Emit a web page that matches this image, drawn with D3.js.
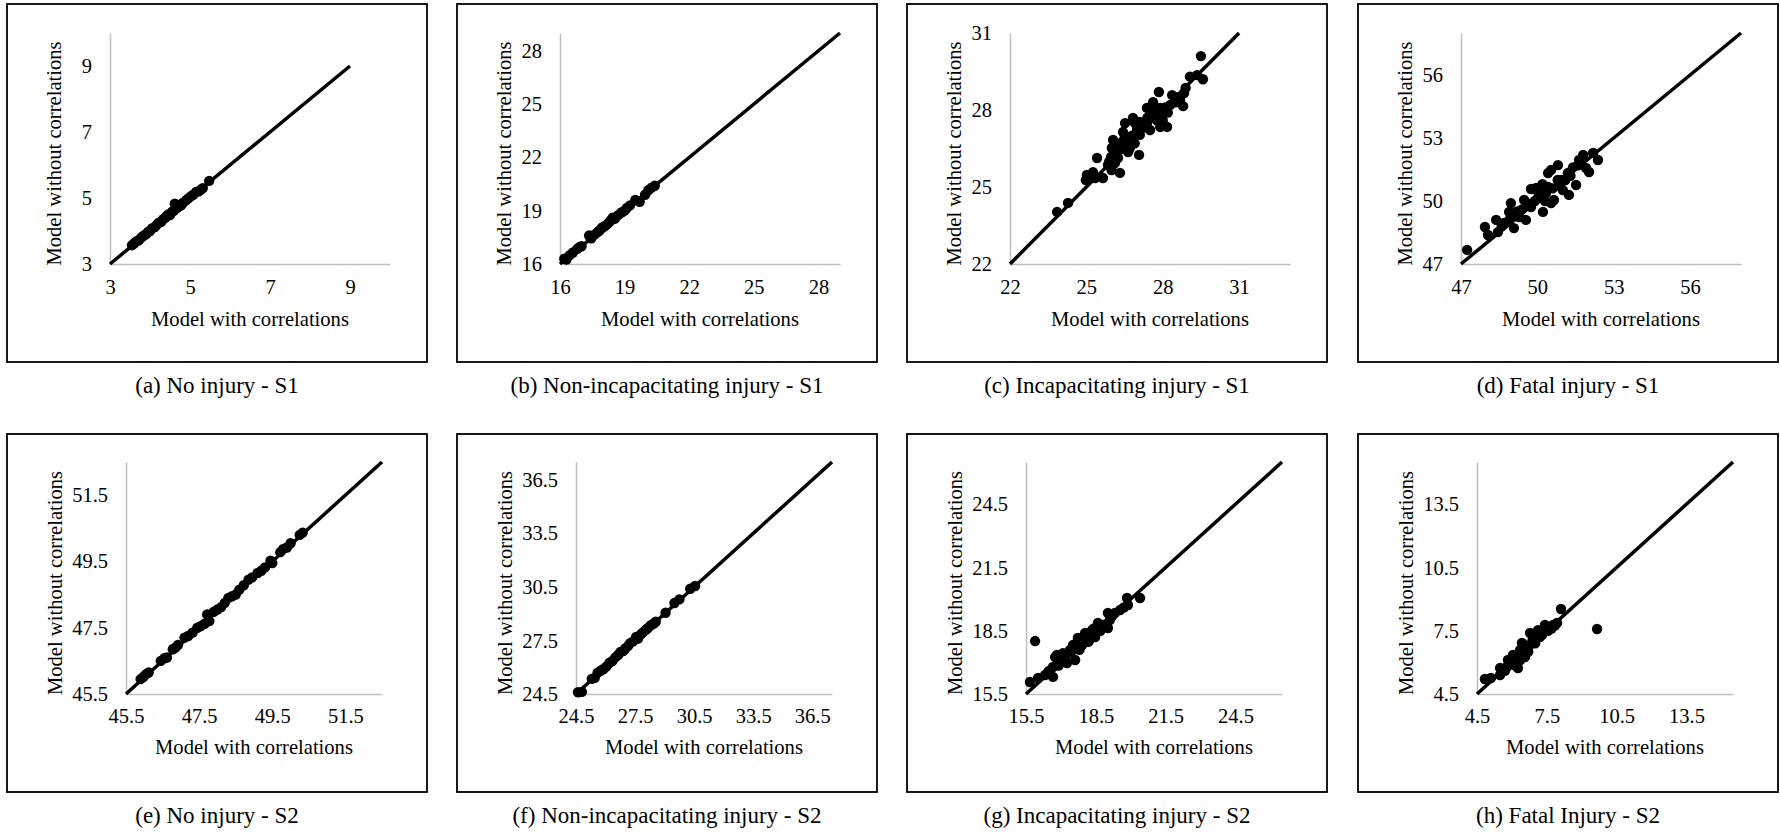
<!DOCTYPE html>
<html>
<head>
<meta charset="utf-8">
<script src="https://cdnjs.cloudflare.com/ajax/libs/d3/7.8.5/d3.min.js"></script>
<style>
  body { margin: 0; background: #fff; }
  svg text { font-family: "Liberation Serif", "Times New Roman", Times, "DejaVu Serif", serif; fill: #000; }
</style>
</head>
<body>
<div id="chartArea"></div>
<script>
var serifFont = '"Liberation Serif", "Times New Roman", Times, "DejaVu Serif", serif';

// captions of the eight panels
var captions = [
  "(a) No injury - S1", "(b) Non-incapacitating injury - S1",
  "(c) Incapacitating injury - S1", "(d) Fatal injury - S1",
  "(e) No injury - S2", "(f) Non-incapacitating injury - S2",
  "(g) Incapacitating injury - S2", "(h) Fatal Injury - S2"
];

// axis domains [min, max] and tick labels
var xDomains = [[3, 10], [16, 29], [22, 33], [47, 58], [45.5, 52.5], [24.5, 37.5], [15.5, 26.5], [4.5, 15.5]];
var yDomains = [[3, 10], [16, 29], [22, 31], [47, 58], [45.5, 52.5], [24.5, 37.5], [15.5, 26.5], [4.5, 15.5]];
var tickSets = [
  [3, 5, 7, 9], [16, 19, 22, 25, 28], [22, 25, 28, 31], [47, 50, 53, 56],
  [45.5, 47.5, 49.5, 51.5], [24.5, 27.5, 30.5, 33.5, 36.5], [15.5, 18.5, 21.5, 24.5], [4.5, 7.5, 10.5, 13.5]
];
// 45 degree reference line, from / to
var lineEnds = [[3, 9], [16, 29], [22, 31], [47, 58], [45.5, 52.5], [24.5, 37.5], [15.5, 26.5], [4.5, 15.5]];

// [model with correlations, model without correlations]
var noInjuryS1 = [[3.55,3.57],[3.6,3.62],[3.65,3.68],[3.72,3.72],[3.78,3.8],[3.83,3.85],[3.9,3.9],[3.95,3.97],[4.0,4.0],[4.05,4.08],[4.12,4.12],[4.18,4.2],[4.22,4.25],[4.28,4.28],[4.33,4.36],[4.38,4.4],[4.42,4.46],[4.46,4.5],[4.5,4.48],[4.55,4.58],[4.6,4.62],[4.62,4.83],[4.68,4.7],[4.72,4.75],[4.78,4.78],[4.82,4.85],[4.9,4.93],[4.95,4.98],[5.02,5.05],[5.08,5.1],[5.15,5.18],[5.22,5.2],[5.28,5.26],[5.32,5.3],[5.48,5.52]];
var nonIncapS1 = [[16.2,16.3],[16.3,16.25],[16.45,16.5],[16.6,16.65],[16.8,16.85],[16.9,16.95],[17.0,17.0],[17.35,17.6],[17.45,17.45],[17.6,17.65],[17.75,17.8],[17.85,17.9],[17.95,18.05],[18.05,18.1],[18.15,18.2],[18.25,18.3],[18.35,18.45],[18.45,18.6],[18.55,18.55],[18.7,18.75],[18.85,18.9],[19.0,19.0],[19.1,19.15],[19.25,19.3],[19.5,19.6],[19.7,19.5],[19.95,19.9],[20.1,20.15],[20.25,20.3],[20.4,20.4]];
var incapS1 = [[23.85,24.03],[24.28,24.38],[24.98,25.27],[25.02,25.47],[25.2,25.4],[25.26,25.58],[25.34,25.35],[25.42,26.13],[25.65,25.35],[25.85,25.86],[25.9,26.0],[25.97,26.17],[25.99,25.66],[26.0,26.52],[26.05,26.83],[26.1,26.3],[26.12,25.93],[26.2,26.6],[26.24,26.13],[26.3,26.44],[26.32,25.55],[26.4,26.75],[26.44,27.14],[26.5,26.9],[26.52,27.49],[26.6,26.7],[26.64,26.36],[26.7,26.5],[26.72,26.95],[26.8,27.0],[26.83,27.69],[26.9,26.7],[26.9,27.5],[26.99,27.22],[27.0,27.4],[27.07,26.25],[27.1,27.03],[27.1,27.53],[27.2,27.3],[27.38,27.49],[27.38,28.08],[27.4,27.7],[27.5,27.22],[27.6,27.8],[27.62,28.3],[27.7,28.0],[27.77,27.6],[27.85,28.7],[27.9,27.34],[27.9,28.08],[27.95,27.8],[28.0,27.6],[28.1,28.1],[28.17,27.34],[28.2,27.9],[28.3,28.2],[28.37,28.58],[28.5,28.3],[28.6,28.5],[28.68,28.39],[28.8,28.15],[28.84,28.66],[28.9,28.86],[29.07,29.3],[29.35,29.36],[29.5,30.1],[29.58,29.2]];
var fatalS1 = [[47.24,47.67],[47.94,48.76],[48.06,48.38],[48.38,49.1],[48.45,48.52],[48.6,48.8],[48.69,48.95],[48.89,49.48],[48.9,49.1],[48.96,49.9],[49.0,49.3],[49.08,48.71],[49.2,49.5],[49.28,49.24],[49.4,49.6],[49.48,50.05],[49.55,49.1],[49.6,49.9],[49.75,49.71],[49.75,50.57],[49.9,50.0],[49.95,50.62],[50.0,50.5],[50.02,50.14],[50.1,50.3],[50.2,50.8],[50.22,49.48],[50.3,50.0],[50.34,50.38],[50.42,50.67],[50.42,51.33],[50.54,49.9],[50.54,51.48],[50.6,50.6],[50.65,50.05],[50.8,51.0],[50.81,51.71],[50.9,50.7],[50.93,51.0],[51.0,50.52],[51.1,51.0],[51.2,51.33],[51.24,50.29],[51.3,51.2],[51.4,51.6],[51.52,50.76],[51.6,51.7],[51.64,51.95],[51.8,52.19],[51.91,51.57],[52.03,51.38],[52.19,52.29],[52.38,51.95]];
var noInjuryS2 = [[45.9,45.95],[45.98,46.02],[46.05,46.1],[46.12,46.15],[46.45,46.5],[46.55,46.58],[46.62,46.6],[46.78,46.85],[46.85,46.9],[46.92,46.98],[47.1,47.2],[47.2,47.25],[47.32,47.35],[47.45,47.5],[47.55,47.55],[47.65,47.62],[47.72,47.9],[47.78,47.7],[47.9,47.98],[48.0,48.05],[48.1,48.12],[48.2,48.25],[48.3,48.4],[48.4,48.45],[48.5,48.5],[48.6,48.65],[48.72,48.78],[48.85,48.95],[48.95,49.02],[49.1,49.15],[49.2,49.22],[49.3,49.32],[49.45,49.52],[49.5,49.45],[49.72,49.78],[49.8,49.88],[49.9,49.92],[50.0,50.05],[50.25,50.3],[50.33,50.37]];
var nonIncapS2 = [[24.6,24.6],[24.8,24.62],[25.3,25.35],[25.45,25.4],[25.6,25.7],[25.75,25.8],[25.9,25.9],[26.05,26.05],[26.2,26.25],[26.35,26.35],[26.5,26.55],[26.65,26.7],[26.75,26.85],[26.9,26.9],[27.0,27.05],[27.15,27.2],[27.25,27.35],[27.4,27.45],[27.55,27.7],[27.65,27.6],[27.8,27.85],[27.9,27.95],[28.05,28.1],[28.15,28.2],[28.3,28.35],[28.45,28.45],[28.55,28.55],[29.05,29.05],[29.5,29.6],[29.75,29.8],[30.3,30.4],[30.55,30.55]];
var incapS2 = [[15.67,16.07],[15.89,18.01],[16.02,16.26],[16.32,16.4],[16.45,16.54],[16.5,16.6],[16.66,16.31],[16.66,16.78],[16.75,17.25],[16.83,17.35],[16.9,16.85],[16.96,17.11],[17.0,17.2],[17.09,17.44],[17.2,17.3],[17.26,16.97],[17.39,17.59],[17.45,17.5],[17.52,17.82],[17.6,17.8],[17.61,17.11],[17.73,18.16],[17.8,17.6],[17.85,18.0],[17.91,17.82],[17.95,18.2],[18.04,18.39],[18.1,18.1],[18.1,18.3],[18.16,17.97],[18.2,18.0],[18.25,18.25],[18.3,18.35],[18.34,18.53],[18.4,18.6],[18.47,18.2],[18.55,18.45],[18.59,18.87],[18.65,18.7],[18.7,18.5],[18.77,18.63],[18.9,18.8],[19.02,18.63],[19.02,19.34],[19.1,19.0],[19.2,19.2],[19.32,19.34],[19.54,19.48],[19.7,19.6],[19.84,20.05],[19.88,19.72],[20.4,20.05]];
var fatalS2 = [[4.84,5.21],[5.1,5.26],[5.49,5.4],[5.49,5.73],[5.65,5.7],[5.7,5.6],[5.79,5.78],[5.83,6.11],[5.9,6.0],[5.95,5.95],[6.0,6.1],[6.05,6.02],[6.05,6.35],[6.1,6.2],[6.15,5.85],[6.2,6.25],[6.26,5.73],[6.3,6.4],[6.35,6.1],[6.35,6.59],[6.4,6.6],[6.43,6.92],[6.5,6.45],[6.56,6.25],[6.6,6.8],[6.69,6.68],[6.7,6.5],[6.78,7.39],[6.85,6.9],[6.9,7.1],[6.99,7.16],[7.0,6.9],[7.1,7.2],[7.12,7.53],[7.2,7.2],[7.3,7.3],[7.34,7.44],[7.42,7.77],[7.5,7.6],[7.55,7.5],[7.7,7.6],[7.77,7.77],[7.85,7.75],[7.94,7.87],[8.11,8.53],[9.66,7.58]];

var pointSets = [noInjuryS1, nonIncapS1, incapS1, fatalS1, noInjuryS2, nonIncapS2, incapS2, fatalS2];

var totalW = 1780, totalH = 833;
var boxW = 420, boxH = 358;
var boxLeft = [7, 457, 907, 1358], boxTop = [4, 434];
// plot area inside each box, per row
var rowPlot = [
  { left: 103, top: 29, width: 280, height: 231, yTitle: 49, xTitle: 62, pad: 15 },
  { left: 119, top: 28, width: 256, height: 232, yTitle: 64, xTitle: 60, pad: 14 }
];

var svg = d3
  .select("#chartArea")
  .append("svg")
  .attr("width", totalW)
  .attr("height", totalH);

captions.forEach(function (cap, i) {
  var row = Math.floor(i / 4),
    col = i % 4,
    rp = rowPlot[row],
    bx = boxLeft[col],
    by = boxTop[row];

  // outer frame
  svg
    .append("rect")
    .attr("x", bx)
    .attr("y", by)
    .attr("width", boxW)
    .attr("height", boxH)
    .attr("fill", "none")
    .attr("stroke", "#000")
    .attr("stroke-width", 1.8);

  svg
    .append("text")
    .attr("x", bx + boxW / 2)
    .attr("y", by + boxH + 31)
    .attr("text-anchor", "middle")
    .style("font-family", serifFont)
    .style("font-size", "23px")
    .text(cap);

  var g = svg
    .append("g")
    .attr("transform", "translate(" + (bx + rp.left) + "," + (by + rp.top) + ")");

  var x = d3.scaleLinear().domain(xDomains[i]).range([0, rp.width]),
    y = d3.scaleLinear().domain(yDomains[i]).range([rp.height, 0]);

  var fmt = row === 0 ? d3.format("d") : d3.format(".1f");

  var xAxis = d3.axisBottom(x).tickValues(tickSets[i]).tickSize(0).tickPadding(rp.pad).tickFormat(fmt),
    yAxis = d3.axisLeft(y).tickValues(tickSets[i]).tickSize(0).tickPadding(18).tickFormat(fmt);

  var gx = g
    .append("g")
    .attr("transform", "translate(0," + rp.height + ")")
    .call(xAxis);
  var gy = g.append("g").call(yAxis);

  [gx, gy].forEach(function (a) {
    a.attr("font-family", null);
    a.select(".domain").attr("stroke", "#bfbfbf").attr("stroke-width", 1.5);
    a.selectAll("text")
      .style("font-size", "20.5px")
      .style("font-family", serifFont)
      .attr("fill", "#000");
  });

  g.append("text")
    .attr("x", rp.width / 2)
    .attr("y", rp.height + rp.xTitle)
    .attr("text-anchor", "middle")
    .style("font-family", serifFont)
    .style("font-size", "20.6px")
    .text("Model with correlations");

  g.append("text")
    .attr("transform", "translate(" + -rp.yTitle + "," + (rp.height / 2 + 5) + ") rotate(-90)")
    .attr("text-anchor", "middle")
    .style("font-family", serifFont)
    .style("font-size", "20.6px")
    .text("Model without correlations");

  var line = d3
    .line()
    .x(function (d) { return x(d); })
    .y(function (d) { return y(d); });

  g.append("path")
    .datum(lineEnds[i])
    .attr("d", line)
    .attr("fill", "none")
    .attr("stroke", "#000")
    .attr("stroke-width", 3.5);

  g.append("g")
    .selectAll("circle")
    .data(pointSets[i])
    .enter()
    .append("circle")
    .attr("r", 5.2)
    .attr("cx", function (d) { return x(d[0]); })
    .attr("cy", function (d) { return y(d[1]); })
    .attr("fill", "#000");
});
</script>
</body>
</html>
